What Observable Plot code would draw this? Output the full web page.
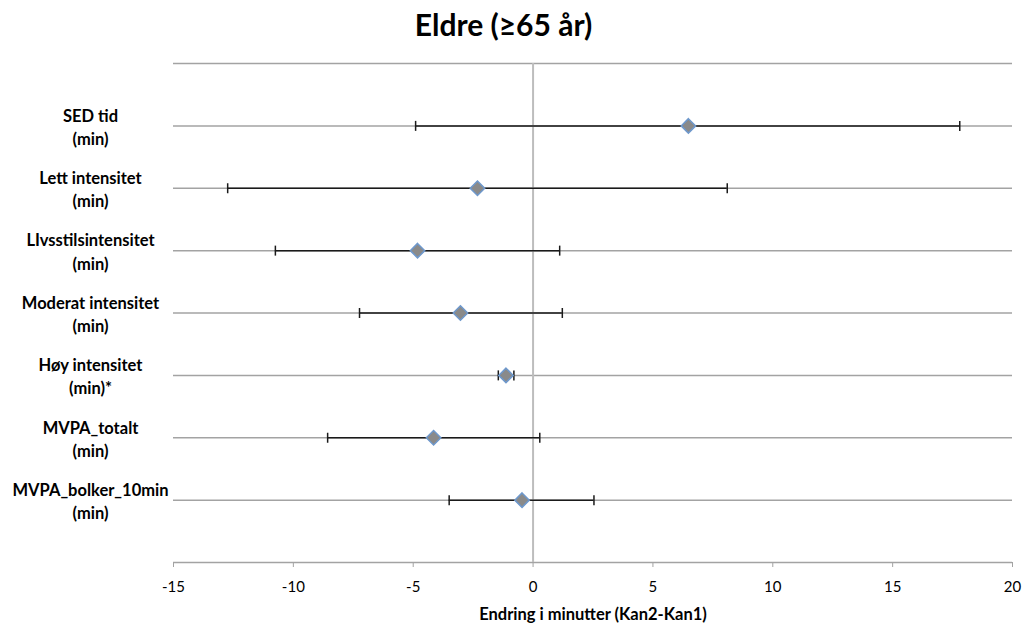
<!DOCTYPE html>
<html>
<head>
<meta charset="utf-8">
<script src="https://cdn.jsdelivr.net/npm/d3@7"></script>
<script src="https://cdn.jsdelivr.net/npm/@observablehq/plot@0.6"></script>
<style>
  html, body { margin: 0; padding: 0; background: #fff; }
  #wrap { width: 1023px; height: 626px; position: relative; font-family: Lato, "Open Sans", sans-serif; }
  #title { height: 48px; line-height: 48px; text-align: center; font-weight: bold; font-size: 30px; padding-right: 16px; color: #000; }
</style>
</head>
<body>
<div id="wrap">
  <div id="title">Eldre (≥65 år)</div>
  <div id="chart"></div>
</div>
<script>
const categories = [
  "SED tid\n(min)",
  "Lett intensitet\n(min)",
  "LIvsstilsintensitet\n(min)",
  "Moderat intensitet\n(min)",
  "Høy intensitet\n(min)*",
  "MVPA_totalt\n(min)",
  "MVPA_bolker_10min\n(min)"
];
const means = [6.48, -2.32, -4.82, -3.03, -1.13, -4.15, -0.46];
const lows  = [-4.9, -12.74, -10.75, -7.24, -1.45, -8.57, -3.5];
const highs = [17.8, 8.1, 1.11, 1.22, -0.8, 0.28, 2.54];
const xTicks = [-15, -10, -5, 0, 5, 10, 15, 20];
const xLabel = "Endring i minutter (Kan2-Kan1)";

const rows = categories.map((c, i) => ({label: c, pos: i + 1, mean: means[i], low: lows[i], high: highs[i]}));
const gridPositions = d3.range(0, categories.length + 2);

const capSymbol = {
  draw(ctx, size) {
    const h = Math.sqrt(size / Math.PI);
    ctx.moveTo(0, -h);
    ctx.lineTo(0, h);
  }
};

const fontFamily = "Lato, 'Open Sans', sans-serif";

const chart = Plot.plot({
  width: 1023,
  height: 578,
  marginLeft: 173,
  marginRight: 11,
  marginTop: 15,
  marginBottom: 64,
  style: {fontFamily, fontSize: "15px", color: "#000", background: "#fff"},
  x: {domain: [-15, 20]},
  y: {domain: [categories.length + 1, 0], axis: null},
  marks: [
    Plot.ruleY(gridPositions, {y: d => d, stroke: "#a3a3a3", strokeWidth: 1.5}),
    Plot.ruleX([0], {stroke: "#bdbdbd", strokeWidth: 2}),
    Plot.axisX({ticks: xTicks, tickFormat: d => String(d), tickSize: 5, tickPadding: 14, stroke: "#a3a3a3", fill: "#000", fontSize: 15, label: null}),
    Plot.text([xLabel], {frameAnchor: "bottom", dy: 52, fontWeight: "bold", fontSize: 16.5, fill: "#000", lineAnchor: "middle"}),
    Plot.text(rows, {y: "pos", frameAnchor: "left", dx: -83, text: "label", textAnchor: "middle", lineAnchor: "middle", lineHeight: 1.4, fontWeight: "bold", fontSize: 16.5, fill: "#000"}),
    Plot.ruleY(rows, {y: "pos", x1: "low", x2: "high", stroke: "#1a1a1a", strokeWidth: 1.5}),
    Plot.dot(rows, {y: "pos", x: "low", symbol: capSymbol, r: 5, stroke: "#1a1a1a", strokeWidth: 1.5, fill: "none"}),
    Plot.dot(rows, {y: "pos", x: "high", symbol: capSymbol, r: 5, stroke: "#1a1a1a", strokeWidth: 1.5, fill: "none"}),
    Plot.dot(rows, {y: "pos", x: "mean", symbol: "diamond2", r: 6.5, fill: "#8a8a8a", stroke: "#6e98cc", strokeWidth: 1.5})
  ]
});
document.getElementById("chart").appendChild(chart);
</script>
</body>
</html>
